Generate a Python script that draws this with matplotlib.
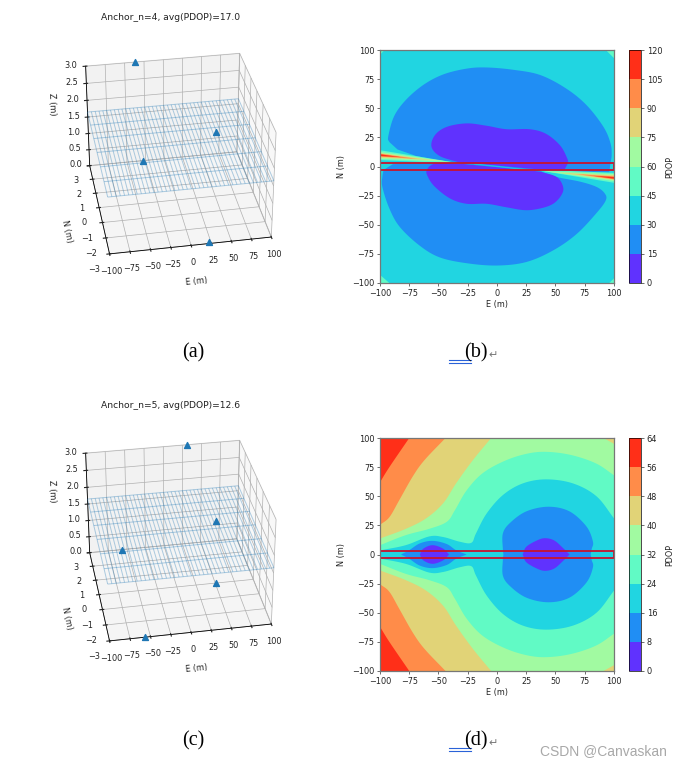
import numpy as np
import matplotlib
matplotlib.use('Agg')
import matplotlib.pyplot as plt
from matplotlib.colors import ListedColormap, BoundaryNorm
from matplotlib.cm import ScalarMappable
from matplotlib.patches import Rectangle

W, H = 682, 766
RAINBOW = [plt.get_cmap('rainbow')((i + .5) / 8) for i in range(8)]

# ---- 3D panels: anchor positions
anchors_a = [(-37, 3, 3), (-28, 3, 0), (31, -2.6, 3), (23, -2.9, 0)]
anchors_c = [(31, 3, 3), (-56, 3, 0), (30, -2.7, 3), (51, 0, 0), (-57, -3, 0)]
grid_e = [-100 + 5 * i for i in range(41)]
grid_n = [-3, -2, -1, 0, 1, 2, 3]
grid_z = 1.65

# ---- panel (b) levels and outlines
levels_b = [0, 15, 30, 45, 60, 75, 90, 105, 120]
b_corners = [[(-100, 96), (-96, 100), (-100, 100)], [(93, 100), (100, 93), (100, 100)],
             [(-100, -93), (-92, -100), (-100, -100)], [(96, -100), (100, -96), (100, -100)]]
b_blue_up = [(-92, 21), (-93, 25.5), (-88, 43), (-78, 57), (-63, 70), (-46, 79), (-26, 84), (-9, 85), (14, 83),
             (37, 78.5), (59, 67), (76.5, 52.7), (91, 34), (97, 20), (98, 10), (97, 3)]
b_blue_up_in = [(97, 3), (96, -5), (70, -5), (36, -3.2), (0, 0), (-36, 3.6), (-49, 5), (-69, 9), (-85, 14.6), (-92, 21)]
b_blue_lo = [(-97, -3), (-98, -9), (-98, -17.5), (-92, -36), (-83, -52), (-66, -68), (-49, -78), (-26, -83), (0, -85),
             (25, -82), (48, -72), (68, -58), (85, -40), (93, -29), (92, -23), (85, -17.5), (71, -13), (51, -9),
             (37, -4)]
b_blue_lo_in = [(37, -4), (0, -0.4), (-35, 3), (-60, 3), (-89, 2), (-97, -3)]
b_pur_up = [(58, -2.2), (60.5, 3), (60, 7), (54, 18), (42, 28), (28, 32), (8, 32), (-9, 35), (-26, 37), (-43, 34),
            (-53, 27), (-56, 17), (-49, 9), (-34, 4)]
b_pur_up_in = [(-34, 4), (0, 0.8), (37, -2.6), (58, -2.2)]
b_pur_lo = [(-36, 3), (-53, 2.6), (-60, -3), (-59, -9), (-53, -17.5), (-40, -27.5), (-26, -32), (-9, -32), (8, -35),
            (24, -37.5), (37, -36), (48, -32), (55, -24.6), (56.5, -17.5), (51, -9), (37, -4.4)]
b_pur_lo_in = [(37, -4.4), (0, -0.6), (-36, 3)]
# thin slit through the centre: blue rim and cyan core
b_slit_blue = [(-36, 3.8), (0, 0.8), (38, -3.6), (38, -4.4), (0, -0.6), (-36, 2.8)]
b_slit_cyan = [(-20, 2.4), (0, 0.4), (34, -3.4), (34, -3.9), (0, -0.2), (-20, 1.9)]
# left wedge per band: top at the edge, bottom at the edge, apex
b_wedge_left = [(14, 5.5, -30, 2.4), (12.5, 6.5, -40, 4), (11.5, 7.5, -55, 5.5), (11, 8.5, -68, 6.5), (10.5, 9, -82, 8)]
b_wedge_bands = [3, 4, 5, 6, 7]

# ---- panel (d) levels and upper half outlines
levels_d = [0, 8, 16, 24, 32, 40, 48, 56, 64]
d_56 = [(-100, 62), (-92, 75), (-75, 100)]
d_48 = [(-100, 25.5), (-92, 32), (-83.5, 46.7), (-72, 67), (-62, 81), (-44, 100)]
d_40 = [(-100, 13.7), (-78, 22), (-60.6, 31), (-46, 44), (-35, 61), (-20.6, 81), (-5, 100)]
d_40_right = [(91, 100), (100, 95)]
d_32 = [(-100, 8), (-78, 16.6), (-58, 22), (-43, 28), (-36, 38), (-26, 55), (-12, 70), (8, 81), (28, 87), (45, 88),
        (65, 85), (85, 78), (100, 68)]
d_24 = [(-100, 3.5), (-78, 8), (-58, 15.5), (-46, 15), (-32, 11), (-22, 10), (-18, 18), (-9, 35), (5, 51), (22, 61),
        (42, 64.5), (65, 61), (85, 50), (100, 31)]
d_16_left = [(-82, 0), (-75, 3.7), (-66, 9.5), (-55, 11.7), (-43, 9), (-35, 3.7), (-26, 0)]
d_16_right = [(5.5, 0), (5, 5), (5, 18), (11, 27), (25, 37), (44, 41), (62, 37), (76.5, 24), (82, 11), (81, 5), (80, 0)]
d_8_left = [(-66, 0), (-63, 5), (-55, 8), (-46, 5), (-41, 0)]
d_8_right = [(22, 0), (25, 6.6), (34, 12), (41, 14), (49, 12), (57, 5), (62, 0)]


def smooth(pts, k=8):
    """Catmull-Rom curve drawn through the read outline points"""
    p = np.asarray(pts, float)
    e = np.vstack([2 * p[0] - p[1], p, 2 * p[-1] - p[-2]])
    t = np.linspace(0, 1, k, endpoint=False)[:, None]
    out = []
    for i in range(1, len(e) - 2):
        a, b, c, d = e[i - 1], e[i], e[i + 1], e[i + 2]
        out.append(.5 * (2 * b + (c - a) * t + (2 * a - 5 * b + 4 * c - d) * t ** 2 + (3 * b - a - 3 * c + d) * t ** 3))
    out.append(p[-1:])
    return np.vstack(out)


def fill(ax, pts, band):
    p = np.asarray(pts, float)
    ax.fill(p[:, 0], p[:, 1], color=RAINBOW[band], lw=0, zorder=2)


def mirrored(curve, extra=()):
    """closed outline from an upper-half curve and its reflection"""
    up = np.vstack([smooth(curve)] + ([np.array(extra, float)] if len(extra) else []))
    lo = up[::-1] * [1, -1]
    return np.vstack([up, lo])


def axes_px(x0, y0, x1, y1, **kw):
    return fig.add_axes([x0 / W, 1 - y1 / H, (x1 - x0) / W, (y1 - y0) / H], **kw)


def contour_panel(top, bottom, levels):
    ax = axes_px(380, top, 614, bottom)
    ax.set_xlim(-100, 100)
    ax.set_ylim(-100, 100)
    ax.set_xticks(range(-100, 101, 25))
    ax.set_yticks(range(-100, 101, 25))
    ax.tick_params(labelsize=5.9, length=2.2, width=.5, pad=1.8, color='#333333', labelcolor='#222222')
    ax.set_xlabel('E (m)', fontsize=5.9, labelpad=1.5, color='#222222')
    ax.set_ylabel('N (m)', fontsize=5.9, color='#222222')
    ax.yaxis.set_label_coords(-.145, .5)
    for s in ax.spines.values():
        s.set_linewidth(.9)
        s.set_color('#777777')
        s.set_zorder(5)
    ax.add_patch(Rectangle((-100, -3), 200, 6, fc='none', ec='#c8142d', lw=1.3, zorder=4))
    cax = axes_px(629, top, 641, bottom)
    sm = ScalarMappable(BoundaryNorm(levels, 8), ListedColormap(RAINBOW))
    cb = fig.colorbar(sm, cax=cax, ticks=levels)
    cb.ax.tick_params(labelsize=5.9, length=2.2, width=.5, pad=1.8, color='#333333', labelcolor='#222222')
    cb.set_label('PDOP', fontsize=5.9, color='#222222')
    cb.ax.yaxis.set_label_coords(3.0, .5)
    cb.outline.set_linewidth(.5)
    return ax


def panel_3d(left, top, anchors, title, title_y):
    ax = fig.add_axes([left / W, 1 - (top + 249) / H, 249 / W, 249 / H], projection='3d')
    ax.patch.set_alpha(0)
    ax.view_init(elev=32, azim=-100)
    ax.set_xlim(-100, 100)
    ax.set_ylim(-3, 3)
    ax.set_zlim(0, 3)
    E, N = np.meshgrid(grid_e, grid_n)
    ax.plot_wireframe(E, N, np.full(E.shape, grid_z), lw=.7, color='#1f77b4', alpha=.35)
    a = np.array(anchors, float)
    ax.scatter(a[:, 0], a[:, 1], a[:, 2], marker='^', s=18, color='#1f77b4', depthshade=False)
    ax.set_xticks(range(-100, 101, 25))
    ax.set_yticks(range(-3, 4))
    ax.set_zticks([0, .5, 1, 1.5, 2, 2.5, 3])
    ax.tick_params(labelsize=5.9, length=2, colors='#222222')
    ax.xaxis.set_tick_params(pad=-2)
    ax.yaxis.set_tick_params(pad=1)
    ax.zaxis.set_tick_params(pad=0)
    ax.set_xlabel('E (m)', fontsize=5.9, labelpad=-4, color='#222222')
    ax.set_ylabel('N (m)', fontsize=5.9, labelpad=-1, color='#222222')
    ax.set_zlabel('Z (m)', fontsize=5.9, labelpad=-1, color='#222222')
    for axis in (ax.xaxis, ax.yaxis, ax.zaxis):
        axis._axinfo['grid']['linewidth'] = .5
        axis.line.set_linewidth(.6)
    fig.text(171 / W, 1 - title_y / H, title, fontsize=6.6, ha='center', va='center', color='#222222')
    return ax


fig = plt.figure(figsize=(W / 100, H / 100), dpi=100, facecolor='white')

panel_3d(49, 29, anchors_a, 'Anchor_n=4, avg(PDOP)=17.0', 18)
panel_3d(49, 416, anchors_c, 'Anchor_n=5, avg(PDOP)=12.6', 405)

# ---- panel (b)
axb = contour_panel(50, 283, levels_b)
axb.set_facecolor(RAINBOW[2])
for c in b_corners:
    fill(axb, c, 3)
fill(axb, np.vstack([smooth(b_blue_up), b_blue_up_in]), 1)
fill(axb, np.vstack([smooth(b_blue_lo), b_blue_lo_in]), 1)
fill(axb, np.vstack([smooth(b_pur_up), b_pur_up_in]), 0)
fill(axb, np.vstack([smooth(b_pur_lo), b_pur_lo_in]), 0)
fill(axb, b_slit_blue, 1)
fill(axb, b_slit_cyan, 2)
for (yt, yb, xa, ya), band in zip(b_wedge_left, b_wedge_bands):
    fill(axb, [(-100, yt), (xa, ya), (-100, yb)], band)
    fill(axb, [(100, -yt), (-xa, -ya), (100, -yb)], band)

# ---- panel (d)
axd = contour_panel(438, 671, levels_d)
axd.set_facecolor(RAINBOW[7])
fill(axd, mirrored(d_56, [(100, 100)]), 6)
fill(axd, mirrored(d_48, [(100, 100)]), 5)
fill(axd, mirrored(d_40, d_40_right), 4)
fill(axd, mirrored(d_32), 3)
fill(axd, mirrored(d_24), 2)
fill(axd, mirrored(d_16_left), 1)
fill(axd, mirrored(d_16_right), 1)
fill(axd, mirrored(d_8_left), 0)
fill(axd, mirrored(d_8_right), 0)

# ---- captions
serif = ['Liberation Serif', 'DejaVu Sans']
for txt, x, y in [('(a)', 193, 353), ('(c)', 193, 741)]:
    fig.text(x / W, 1 - y / H, txt, fontsize=14.5, family=serif, ha='center', va='center', color='black')
for txt, y, uy in [('(b)', 353, 360), ('(d)', 741, 748)]:
    fig.text(464.5 / W, 1 - y / H, txt, fontsize=14.5, family=serif, ha='left', va='center', color='black')
    fig.text(488 / W, 1 - (y + 2.5) / H, '\u21b5', fontsize=8, family=['DejaVu Sans'], ha='left', va='center',
             color='#777777')
    for dy in (0, 3):
        fig.add_artist(plt.Line2D([449 / W, 471 / W], [1 - (uy + dy) / H] * 2, color='#2a62d8', lw=.8))
fig.text(540 / W, 1 - 751 / H, 'CSDN @Canvaskan', fontsize=10, family=['Liberation Sans'], ha='left', va='center',
         color='#a8a8a8')

fig.savefig('out.png', dpi=100)
